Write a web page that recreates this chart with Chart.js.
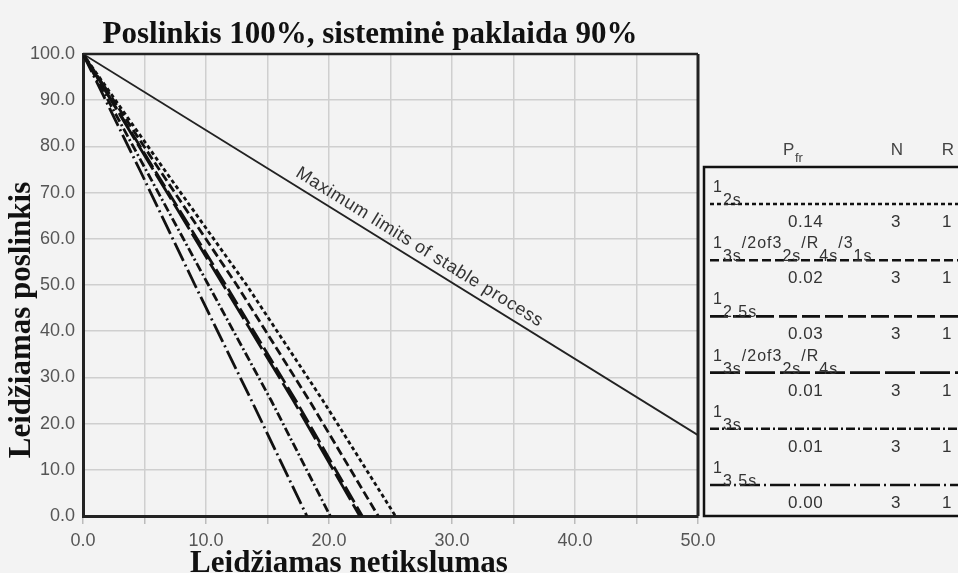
<!DOCTYPE html>
<html>
<head>
<meta charset="utf-8">
<title>Poslinkis 100%, sisteminė paklaida 90%</title>
<script src="https://cdn.jsdelivr.net/npm/chart.js@4.4.1/dist/chart.umd.min.js"></script>
<style>
  html, body { margin: 0; padding: 0; background: #f3f3f3; }
  #wrap { width: 958px; height: 573px; position: relative; }
</style>
</head>
<body>
<div id="wrap"><canvas id="opspecs"></canvas></div>
<script>
// Allowable bias (y) against allowable imprecision (x), TEa = 100%
const biasLevels = [100, 75, 50, 25, 0];

// x where each QC rule's line crosses the bias levels above
const rule12s      = [0, 6.6, 13.3, 19.5, 25.4];
const rule13s2of3  = [0, 6.2, 12.5, 18.4, 24.0];
const rule125s     = [0, 5.8, 11.6, 17.3, 22.7];
const rule13sR4s   = [0, 5.7, 11.4, 17.1, 22.5];
const rule13s      = [0, 5.1, 10.2, 15.3, 20.1];
const rule135s     = [0, 4.6, 9.1, 13.7, 18.2];

// maximum limits of stable process
const stableX = [0, 50];
const stableY = [100, 17.5];

// legend table
const ruleLabels = [
  [['1', 'sup'], ['2s', 'sub']],
  [['1', 'sup'], ['3s', 'sub'], ['/2of3', 'sup'], ['2s', 'sub'], ['/R', 'sup'], ['4s', 'sub'], ['/3', 'sup'], ['1s', 'sub']],
  [['1', 'sup'], ['2.5s', 'sub']],
  [['1', 'sup'], ['3s', 'sub'], ['/2of3', 'sup'], ['2s', 'sub'], ['/R', 'sup'], ['4s', 'sub']],
  [['1', 'sup'], ['3s', 'sub']],
  [['1', 'sup'], ['3.5s', 'sub']]
];
const pfr = ['0.14', '0.02', '0.03', '0.01', '0.01', '0.00'];
const nValues = ['3', '3', '3', '3', '3', '3'];
const rValues = ['1', '1', '1', '1', '1', '1'];

const ruleSeries = [rule12s, rule13s2of3, rule125s, rule13sR4s, rule13s, rule135s];
const ruleDashes = [[4, 3], [9, 4], [18, 5], [30, 5], [9, 3, 2, 3], [20, 4, 2, 4]];

const xTicks = [0, 10, 20, 30, 40, 50];

function toPoints(xs, ys) {
  return xs.map((x, i) => ({ x: x, y: ys[i] }));
}

const datasets = ruleSeries.map((xs, i) => ({
  label: ruleLabels[i].map(p => p[0]).join(''),
  data: toPoints(xs, biasLevels),
  showLine: true,
  borderColor: '#111',
  borderWidth: 2.8,
  borderDash: ruleDashes[i],
  pointRadius: 0,
  fill: false
}));

datasets.push({
  label: 'Maximum limits of stable process',
  data: toPoints(stableX, stableY),
  showLine: true,
  borderColor: '#222',
  borderWidth: 1.8,
  pointRadius: 0,
  fill: false
});

const serif = '"Liberation Serif", "Times New Roman", serif';
const sans = '"Liberation Sans", Arial, sans-serif';

// titles, frame, line caption and the rule table
const decorations = {
  id: 'decorations',
  afterDatasetsDraw(chart) {
    const ctx = chart.ctx;
    const area = chart.chartArea;
    const xs = chart.scales.x;
    const ys = chart.scales.y;

    ctx.save();
    // frame on top and right
    ctx.strokeStyle = '#222';
    ctx.lineWidth = 2.5;
    ctx.beginPath();
    ctx.moveTo(area.left, area.top);
    ctx.lineTo(area.right, area.top);
    ctx.stroke();
    ctx.lineWidth = 3;
    ctx.beginPath();
    ctx.moveTo(area.right, area.top);
    ctx.lineTo(area.right, area.bottom);
    ctx.stroke();

    // caption along the stable process line
    const x0 = xs.getPixelForValue(stableX[0]), y0 = ys.getPixelForValue(stableY[0]);
    const x1 = xs.getPixelForValue(stableX[1]), y1 = ys.getPixelForValue(stableY[1]);
    const ang = Math.atan2(y1 - y0, x1 - x0);
    const mx = xs.getPixelForValue(26.8);
    const my = y0 + (mx - x0) * Math.tan(ang);
    ctx.translate(mx, my);
    ctx.rotate(ang);
    ctx.fillStyle = '#333';
    ctx.font = '18px ' + sans;
    ctx.letterSpacing = '0.7px';
    ctx.textAlign = 'center';
    ctx.textBaseline = 'alphabetic';
    ctx.fillText('Maximum limits of stable process', 0, -8);
    ctx.restore();

    ctx.save();
    // chart title
    ctx.fillStyle = '#111';
    ctx.font = 'bold 31px ' + serif;
    ctx.textAlign = 'center';
    ctx.fillText('Poslinkis 100%, sisteminė paklaida 90%', 370, 43);

    // axis titles
    ctx.font = 'bold 31px ' + serif;
    ctx.fillText('Leidžiamas netikslumas', 349, 572);
    ctx.save();
    ctx.translate(30, 320);
    ctx.rotate(-Math.PI / 2);
    ctx.fillText('Leidžiamas poslinkis', 0, 0);
    ctx.restore();

    // rule table
    const boxLeft = area.right + 6;
    const boxTop = 167;
    const rowStep = 56.2;
    ctx.strokeStyle = '#111';
    ctx.lineWidth = 2.5;
    ctx.strokeRect(boxLeft, boxTop, 300, area.bottom - boxTop);

    ctx.fillStyle = '#444';
    ctx.textAlign = 'left';
    ctx.font = '17px ' + sans;
    ctx.fillText('P', 783, 155);
    ctx.font = '13px ' + sans;
    ctx.fillText('fr', 795, 162);
    ctx.font = '17px ' + sans;
    ctx.textAlign = 'center';
    ctx.fillText('N', 897, 155);
    ctx.fillText('R', 948, 155);

    ruleLabels.forEach((parts, i) => {
      const ly = 204 + i * rowStep;
      // line sample
      ctx.save();
      ctx.strokeStyle = '#111';
      ctx.lineWidth = 2.6;
      ctx.setLineDash(ruleDashes[i]);
      ctx.beginPath();
      ctx.moveTo(boxLeft + 6, ly);
      ctx.lineTo(chart.width, ly);
      ctx.stroke();
      ctx.restore();

      // rule name with super/subscripts
      ctx.fillStyle = '#333';
      ctx.textAlign = 'left';
      ctx.font = '16px ' + sans;
      ctx.letterSpacing = '1px';
      let tx = boxLeft + 9;
      parts.forEach(p => {
        const by = p[1] === 'sup' ? ly - 12 : ly + 1;
        ctx.fillText(p[0], tx, by);
        tx += ctx.measureText(p[0]).width;
      });
      ctx.letterSpacing = '0.5px';

      // values
      ctx.font = '17px ' + sans;
      ctx.fillText(pfr[i], 788, ly + 23);
      ctx.textAlign = 'center';
      ctx.fillText(nValues[i], 896, ly + 23);
      ctx.fillText(rValues[i], 947, ly + 23);
      ctx.letterSpacing = '0px';
    });
    ctx.restore();
  }
};

const chart = new Chart(document.getElementById('opspecs'), {
  type: 'scatter',
  data: { datasets: datasets },
  options: {
    responsive: true,
    maintainAspectRatio: false,
    animation: false,
    layout: { padding: { top: 54, right: 260, left: 0, bottom: 0 } },
    plugins: {
      legend: { display: false },
      tooltip: { enabled: false },
      title: { display: false }
    },
    scales: {
      x: {
        type: 'linear',
        min: 0,
        max: 50,
        afterFit(scale) { scale.height = 57; },
        ticks: {
          stepSize: 5,
          autoSkip: false,
          maxRotation: 0,
          padding: 6,
          color: '#555',
          font: { family: sans, size: 18 },
          callback: v => xTicks.includes(v) ? v.toFixed(1) : ''
        },
        grid: { color: '#cfcfcf', lineWidth: 1.5, tickLength: 8, tickColor: '#bbb' },
        border: { color: '#222', width: 3 }
      },
      y: {
        type: 'linear',
        min: 0,
        max: 100,
        afterFit(scale) { scale.width = 83; },
        ticks: {
          stepSize: 10,
          padding: 8,
          color: '#555',
          font: { family: sans, size: 18 },
          callback: v => v.toFixed(1)
        },
        grid: { color: '#cfcfcf', lineWidth: 1.5, drawTicks: false },
        border: { color: '#222', width: 3 }
      }
    }
  },
  plugins: [decorations]
});
</script>
</body>
</html>
